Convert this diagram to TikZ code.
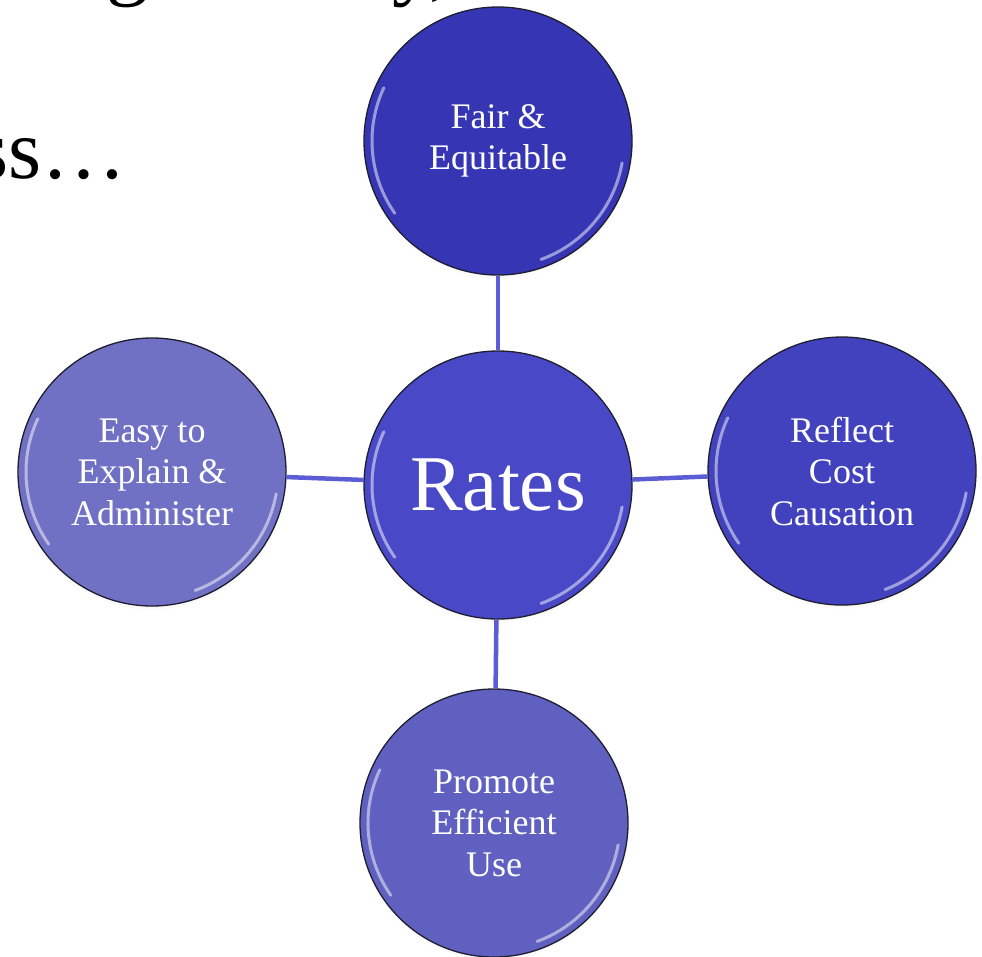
\documentclass[tikz,border=0pt]{standalone}
\usepackage{fontspec}
\setmainfont{Liberation Serif}
\usetikzlibrary{shadows}

\definecolor{fairfill}{RGB}{54,54,181}
\definecolor{ratesfill}{RGB}{73,73,200}
\definecolor{reflfill}{RGB}{66,66,190}
\definecolor{easyfill}{RGB}{112,112,196}
\definecolor{promfill}{RGB}{96,96,192}
\definecolor{linkblue}{RGB}{92,92,212}
\definecolor{rimdark}{RGB}{30,30,48}

\begin{document}
\begin{tikzpicture}[x=1pt,y=-1pt,
	bubble/.style={circle, draw=rimdark, line width=1.3pt, minimum size=268pt, inner sep=0pt,
		text=white, align=center, font=\fontsize{36}{41.5}\selectfont,
		circular drop shadow={shadow xshift=0pt, shadow yshift=-3pt, opacity=0.25, shadow scale=1.01}},
	link/.style={draw=linkblue, line width=4.5pt},
	gloss/.style={draw=white, line width=3pt, opacity=0.5, line cap=round}]
	\useasboundingbox (0,0) rectangle (982,956);
	
	% bits of the slide title above
	\begin{scope}
		\clip (0,0) rectangle (982,956);
		\node[anchor=base west, inner sep=0pt, font=\fontsize{85}{100}\selectfont] at (106,-11) (titg) {g};
		\node[anchor=base west, inner sep=0pt, font=\fontsize{85}{100}\selectfont] at (392,-11) (tity) {y,};
		\node[anchor=base east, inner sep=0pt, font=\fontsize{85}{100}\selectfont] at (127,178) (titss) {ss…};
	\end{scope}
	
	\node[bubble, fill=ratesfill, font=\fontsize{79}{90}\selectfont] at (498,485) (rates) {Rates};
	\node[bubble, fill=fairfill] at (498,141) (fairequ) {Fair \&\\Equitable};
	\node[bubble, fill=reflfill] at (842,471) (reflcost) {Reflect\\Cost\\Causation};
	\node[bubble, fill=easyfill] at (152,472) (easyexp) {Easy to\\Explain \&\\Administer};
	\node[bubble, fill=promfill] at (494,823) (promeff) {Promote\\Efficient\\Use};
	
	\draw[link] (rates) -- (fairequ);
	\draw[link] (rates) -- (reflcost);
	\draw[link] (rates) -- (easyexp);
	\draw[link] (rates) -- (promeff);
	
	% glossy rim on every bubble
	\foreach \n in {rates,fairequ,reflcost,easyexp,promeff} {
		\draw[gloss] (\n.center) ++(155:126pt) arc[start angle=155, end angle=215, radius=126pt];
		\draw[gloss] (\n.center) ++(290:126pt) arc[start angle=290, end angle=350, radius=126pt];
	}
	
\end{tikzpicture}
\end{document}
